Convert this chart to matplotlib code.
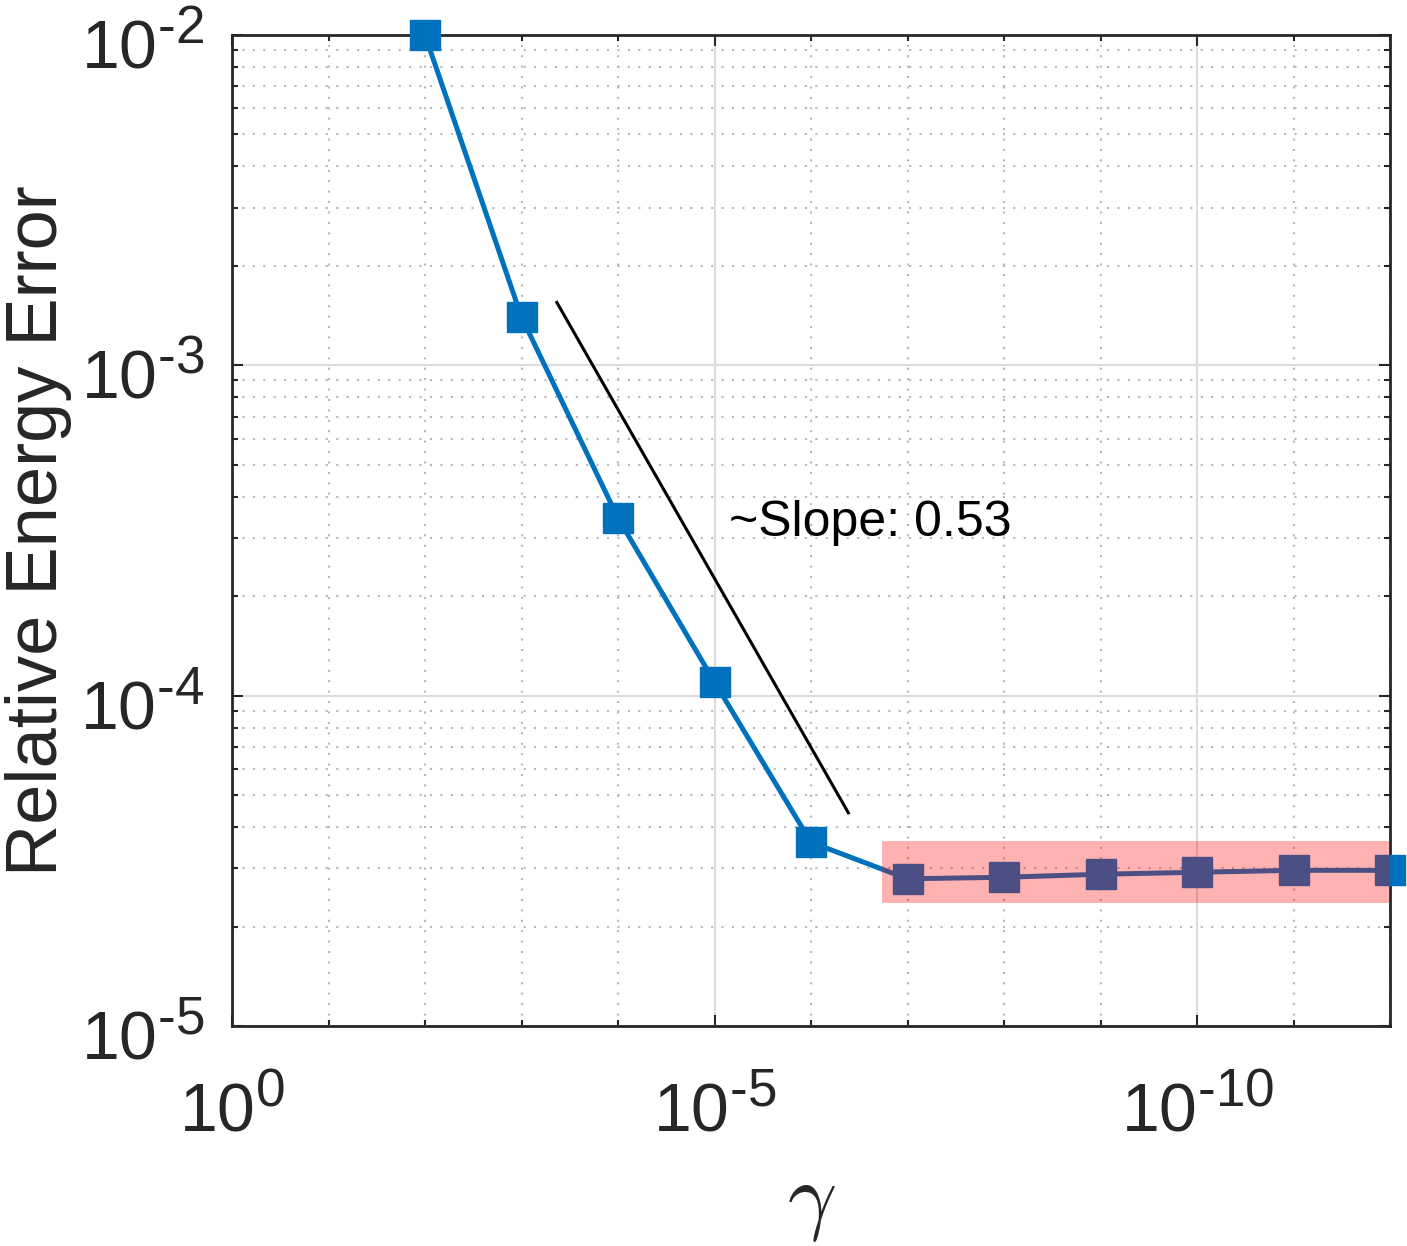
import matplotlib
matplotlib.use("Agg")
import matplotlib.pyplot as plt
from matplotlib.ticker import FixedLocator, FixedFormatter, NullFormatter
from matplotlib.transforms import ScaledTranslation

# ---------------- data ----------------
gamma = [1e-2, 1e-3, 1e-4, 1e-5, 1e-6, 1e-7, 1e-8, 1e-9, 1e-10, 1e-11, 1e-12]
rel_error = [1.00e-2, 1.40e-3, 3.45e-4, 1.10e-4, 3.60e-5, 2.79e-5, 2.82e-5,
             2.88e-5, 2.92e-5, 2.96e-5, 2.96e-5]

slope_x = [4.3e-4, 4.1e-7]
slope_y = [1.55e-3, 4.42e-5]
slope_label = "~Slope: 0.53"
slope_label_x = 7.0e-6
slope_label_y = 3.33e-4

highlight_x = [1.85e-7, 1e-12]
highlight_y = [2.36e-5, 3.63e-5]

HY = "\u2010"  # short hyphen as in the reference exponents
x_major = [1e0, 1e-5, 1e-10]
x_major_labels = [r"$\mathregular{10^{0}}$",
                  r"$\mathregular{10^{" + HY + "5}}$",
                  r"$\mathregular{10^{" + HY + "10}}$"]
x_minor = [10.0 ** (-k) for k in range(0, 13) if k % 5 != 0]
y_major = [1e-5, 1e-4, 1e-3, 1e-2]
y_major_labels = [r"$\mathregular{10^{" + HY + "5}}$",
                  r"$\mathregular{10^{" + HY + "4}}$",
                  r"$\mathregular{10^{" + HY + "3}}$",
                  r"$\mathregular{10^{" + HY + "2}}$"]
y_minor = [m * 10.0 ** e for e in (-5, -4, -3) for m in range(2, 10)]

x_limits = (1e0, 1e-12)
y_limits = (1e-5, 1e-2)

xlabel = r"$\gamma$"
ylabel = "Relative Energy Error"

# ---------------- style ----------------
plt.rcParams["font.family"] = ["Liberation Sans", "DejaVu Sans"]
plt.rcParams["mathtext.fontset"] = "custom"
plt.rcParams["mathtext.rm"] = "Liberation Sans"
plt.rcParams["mathtext.it"] = "Liberation Sans:italic"
plt.rcParams["mathtext.bf"] = "Liberation Sans:bold"

try:
    import matplotlib._mathtext as _mt
    _mt.SHRINK_FACTOR = 0.78
except Exception:
    pass

blue = "#0072BD"
axis_col = "#262626"

fig = plt.figure(figsize=(14.07, 12.46), dpi=100)
ax = fig.add_axes([232 / 1407, 1 - 1026 / 1246, (1390 - 232) / 1407, (1026 - 35) / 1246])
ax.set_xscale("log")
ax.set_yscale("log")
ax.set_xlim(*x_limits)
ax.set_ylim(*y_limits)

ax.plot(gamma, rel_error, color=blue, lw=3.6, marker="s", markersize=21,
        markerfacecolor=blue, markeredgecolor=blue, clip_on=False, zorder=3)
ax.plot(slope_x, slope_y, color="black", lw=2.2, zorder=3)
ax.text(slope_label_x, slope_label_y, slope_label, fontsize=36, ha="left",
        va="center", color="black", zorder=4)

ax.fill_between(highlight_x, highlight_y[0], highlight_y[1], color="red",
                alpha=0.3, lw=0, zorder=4)

ax.xaxis.set_major_locator(FixedLocator(x_major))
ax.xaxis.set_major_formatter(FixedFormatter(x_major_labels))
ax.xaxis.set_minor_locator(FixedLocator(x_minor))
ax.xaxis.set_minor_formatter(NullFormatter())
ax.yaxis.set_major_locator(FixedLocator(y_major))
ax.yaxis.set_major_formatter(FixedFormatter(y_major_labels))
ax.yaxis.set_minor_locator(FixedLocator(y_minor))
ax.yaxis.set_minor_formatter(NullFormatter())

ax.grid(True, which="major", color="#dcdcdc", lw=1.5, ls="-", zorder=0)
ax.grid(True, which="minor", color="#b8b8b8", lw=1.5, ls=(0, (1, 4)), zorder=0)
ax.set_axisbelow(True)

ax.tick_params(which="both", direction="in", top=True, right=True,
               color=axis_col, width=1.5)
ax.tick_params(which="major", length=8, labelsize=49, labelcolor=axis_col)
ax.tick_params(which="minor", length=4)
ax.tick_params(axis="x", which="major", pad=38)
ax.tick_params(axis="y", which="major", pad=20)

# nudge y tick labels slightly down, as in the reference
shift = ScaledTranslation(0, -7 / 100, fig.dpi_scale_trans)
for lab in ax.get_yticklabels():
    lab.set_transform(lab.get_transform() + shift)

for s in ax.spines.values():
    s.set_color(axis_col)
    s.set_linewidth(2)

ax.set_ylabel(ylabel, fontsize=52, color=axis_col)
ax.yaxis.set_label_coords((72 - 232) / 1158, 0.5)
ax.set_xlabel(xlabel, fontsize=62, math_fontfamily="cm", color=axis_col)
ax.xaxis.set_label_coords(0.5, -(1244 - 1026) / 991)
ax.xaxis.label.set_va("bottom")

fig.savefig("out.png", dpi=100)
